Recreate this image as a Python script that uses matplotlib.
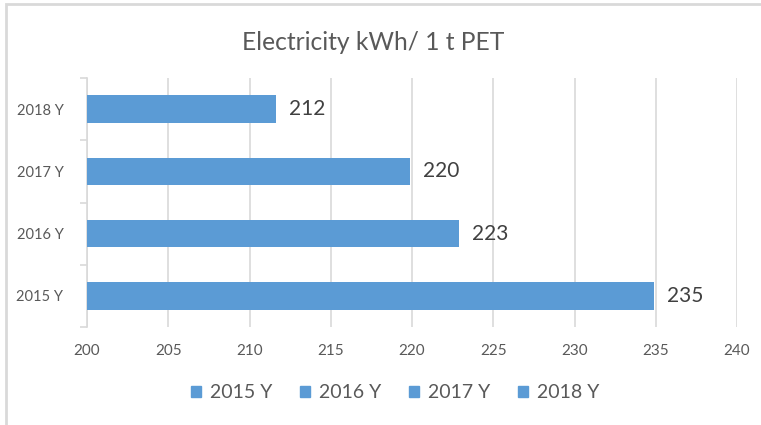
import matplotlib
matplotlib.use("Agg")
import matplotlib.pyplot as plt
from matplotlib.patches import Rectangle, Patch

plt.rcParams["font.family"] = ["Lato", "DejaVu Sans"]

years = ["2015 Y", "2016 Y", "2017 Y", "2018 Y"]
values = [234.9, 222.9, 219.9, 211.6]
x_ticks = [200, 205, 210, 215, 220, 225, 230, 235, 240]

BLUE = "#5B9BD5"
GRID = "#D9D9D9"
TEXT = "#595959"

fig = plt.figure(figsize=(7.61, 4.25), dpi=100)
ax = fig.add_axes([87 / 761, 1 - 327 / 425, 650 / 761, 249 / 425])

ypos = list(range(len(years)))
ax.barh(ypos, values, height=0.44, left=0, color=BLUE, zorder=3)
ax.set_xlim(200, 240)
ax.set_ylim(-0.5, len(years) - 0.5)

for y, v in zip(ypos, values):
    ax.text(v + 0.8, y, f"{v:.0f}", va="center", ha="left",
            fontsize=15, color="#404040", zorder=4)

ax.set_xticks(x_ticks)
ax.set_xticklabels([str(t) for t in x_ticks], fontsize=11, color=TEXT)
ax.tick_params(axis="x", length=0, pad=12)
ax.grid(axis="x", color=GRID, lw=1.2, zorder=0)

ax.set_yticks(ypos)
ax.set_yticklabels(years, fontsize=10.5, color=TEXT)
ax.tick_params(axis="y", which="major", length=0, pad=17)
ax.set_yticks([y - 0.5 for y in range(len(years) + 1)], minor=True)
ax.tick_params(axis="y", which="minor", length=5, color=GRID, width=1.2)

for s in ["top", "right", "bottom"]:
    ax.spines[s].set_visible(False)
ax.spines["left"].set_color(GRID)
ax.spines["left"].set_linewidth(1.2)

fig.text(373 / 761, 1 - 42 / 425, "Electricity kWh/ 1 t PET", ha="center",
         va="center", fontsize=17.7, color=TEXT)

handles = [Patch(color=BLUE, label=y) for y in years]
fig.legend(handles=handles, loc="center", bbox_to_anchor=(395 / 761, 1 - 393 / 425),
           ncol=4, frameon=False, fontsize=14, handlelength=0.55, handleheight=0.55,
           handletextpad=0.45, columnspacing=1.4, labelcolor=TEXT)

fig.patches.append(Rectangle((6 / 761, -0.05), 1.1, 1 - 4 / 425 + 0.05,
                             transform=fig.transFigure, fill=False,
                             edgecolor=GRID, lw=2))

fig.savefig("out.png", dpi=100)
